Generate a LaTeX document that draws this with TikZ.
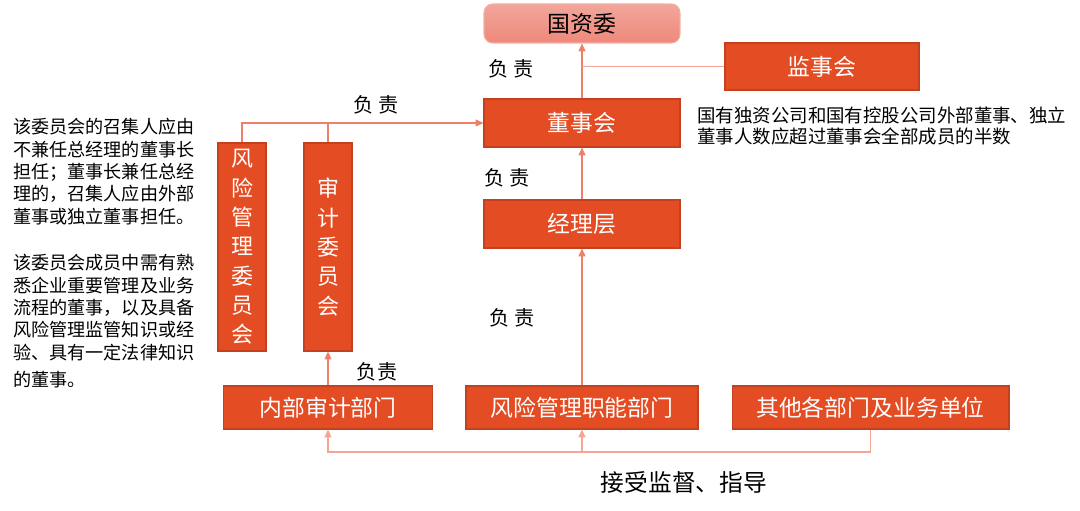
\documentclass[tikz,border=0pt]{standalone}
\usepackage{fontspec}
\setmainfont{Noto Sans CJK SC}
\usetikzlibrary{arrows.meta}

\definecolor{boxfill}{HTML}{E44C23}
\definecolor{boxline}{HTML}{C4411F}
\definecolor{linecol}{HTML}{EE7F68}
\definecolor{railcol}{HTML}{F4A595}
\definecolor{gzwtop}{HTML}{F2A69B}
\definecolor{gzwbot}{HTML}{EE887B}
\definecolor{gzwline}{HTML}{F3AEA4}

\begin{document}
\begin{tikzpicture}[x=0.02cm,y=-0.02cm]

\tikzset{box/.style = {shape=rectangle,draw=boxline,fill=boxfill,text=white,line width=0.6pt,inner sep=0pt,font=\fontsize{13}{15}\selectfont}}
\tikzset{vbox/.style = {box,minimum width=0.96cm,minimum height=4.16cm,align=center,font=\fontsize{12.5}{16.7}\selectfont}}
\tikzset{edge/.style = {->,> = {Triangle[length=4.5pt,width=4pt]},draw=linecol,line width=0.6pt}}
\tikzset{note/.style = {align=left,anchor=north west,inner sep=0pt}}
\tikzset{duty/.style = {inner sep=0pt,font=\fontsize{11.5}{13}\selectfont}}

\useasboundingbox (0,0) rectangle (1080,511);

%boxes
\node[box,draw=gzwline,top color=gzwtop,bottom color=gzwbot,text=black,rounded corners=5pt,minimum width=3.92cm,minimum height=0.78cm] (gzw) at (582,23.5) {国资委};
\node[box,minimum width=3.88cm,minimum height=0.94cm] (jsh) at (822,66.5) {监事会};
\node[box,minimum width=3.92cm,minimum height=0.96cm] (dsh) at (582,123) {董事会};
\node[box,minimum width=3.92cm,minimum height=0.96cm] (jlc) at (582,224) {经理层};
\node[vbox] (fxw) at (242,247) {风\\险\\管\\理\\委\\员\\会};
\node[vbox] (sjw) at (328,247) {审\\计\\委\\员\\会};
\node[box,minimum width=4.18cm,minimum height=0.86cm] (nbsj) at (328,407.5) {内部审计部门};
\node[box,minimum width=4.64cm,minimum height=0.86cm] (fxzn) at (582,407.5) {风险管理职能部门};
\node[box,minimum width=5.54cm,minimum height=0.86cm] (qt) at (870.5,407.5) {其他各部门及业务单位};

%labels
\node[duty] (d1) at (511,69) {负\hspace{0.2em}责};
\node[duty] (d2) at (376,105) {负\hspace{0.2em}责};
\node[duty] (d3) at (507,178) {负\hspace{0.2em}责};
\node[duty] (d4) at (512,318) {负\hspace{0.2em}责};
\node[duty] (d5) at (377,372) {负\hspace{0.05em}责};
\node[inner sep=0pt,font=\fontsize{13.5}{15}\selectfont] (jsjd) at (684,482) {接受监督、指导};

%notes
\node[note,font=\fontsize{10.3}{12.75}\selectfont] (n1) at (13,118)
  {该委员会的召集人应由\\不兼任总经理的董事长\\担任；董事长兼任总经\\理的，召集人应由外部\\董事或独立董事担任。};
\node[note,font=\fontsize{10.3}{12.75}\selectfont] (n2) at (13,254)
  {该委员会成员中需有熟\\悉企业重要管理及业务\\流程的董事，以及具备\\风险管理监管知识或经\\验、具有一定法律知识\\[2.5pt]的董事。};
\node[note,font=\fontsize{10.5}{11.9}\selectfont] (n3) at (697,107)
  {国有独资公司和国有控股公司外部董事、独立\\董事人数应超过董事会全部成员的半数};

%edges
\coordinate (rail) at (0,452);
\draw[edge] (dsh) -- (gzw);
\draw[draw=railcol,line width=0.6pt] (jsh.west) -- (dsh.north |- jsh.west);
\draw[edge] (jlc) -- (dsh);
\draw[edge] (fxzn) -- (jlc);
\draw[edge] (fxw.north) |- (dsh.west);
\draw[draw=linecol,line width=0.6pt] (sjw.north) -- (sjw.north |- dsh.west);
\draw[edge] (nbsj) -- (sjw);
\draw[edge,draw=railcol,line width=1.1pt] (qt.south) -- (qt.south |- rail) -| (nbsj.south);
\draw[edge,draw=railcol,line width=1.1pt] (fxzn.south |- rail) -- (fxzn.south);
\end{tikzpicture}
\end{document}
